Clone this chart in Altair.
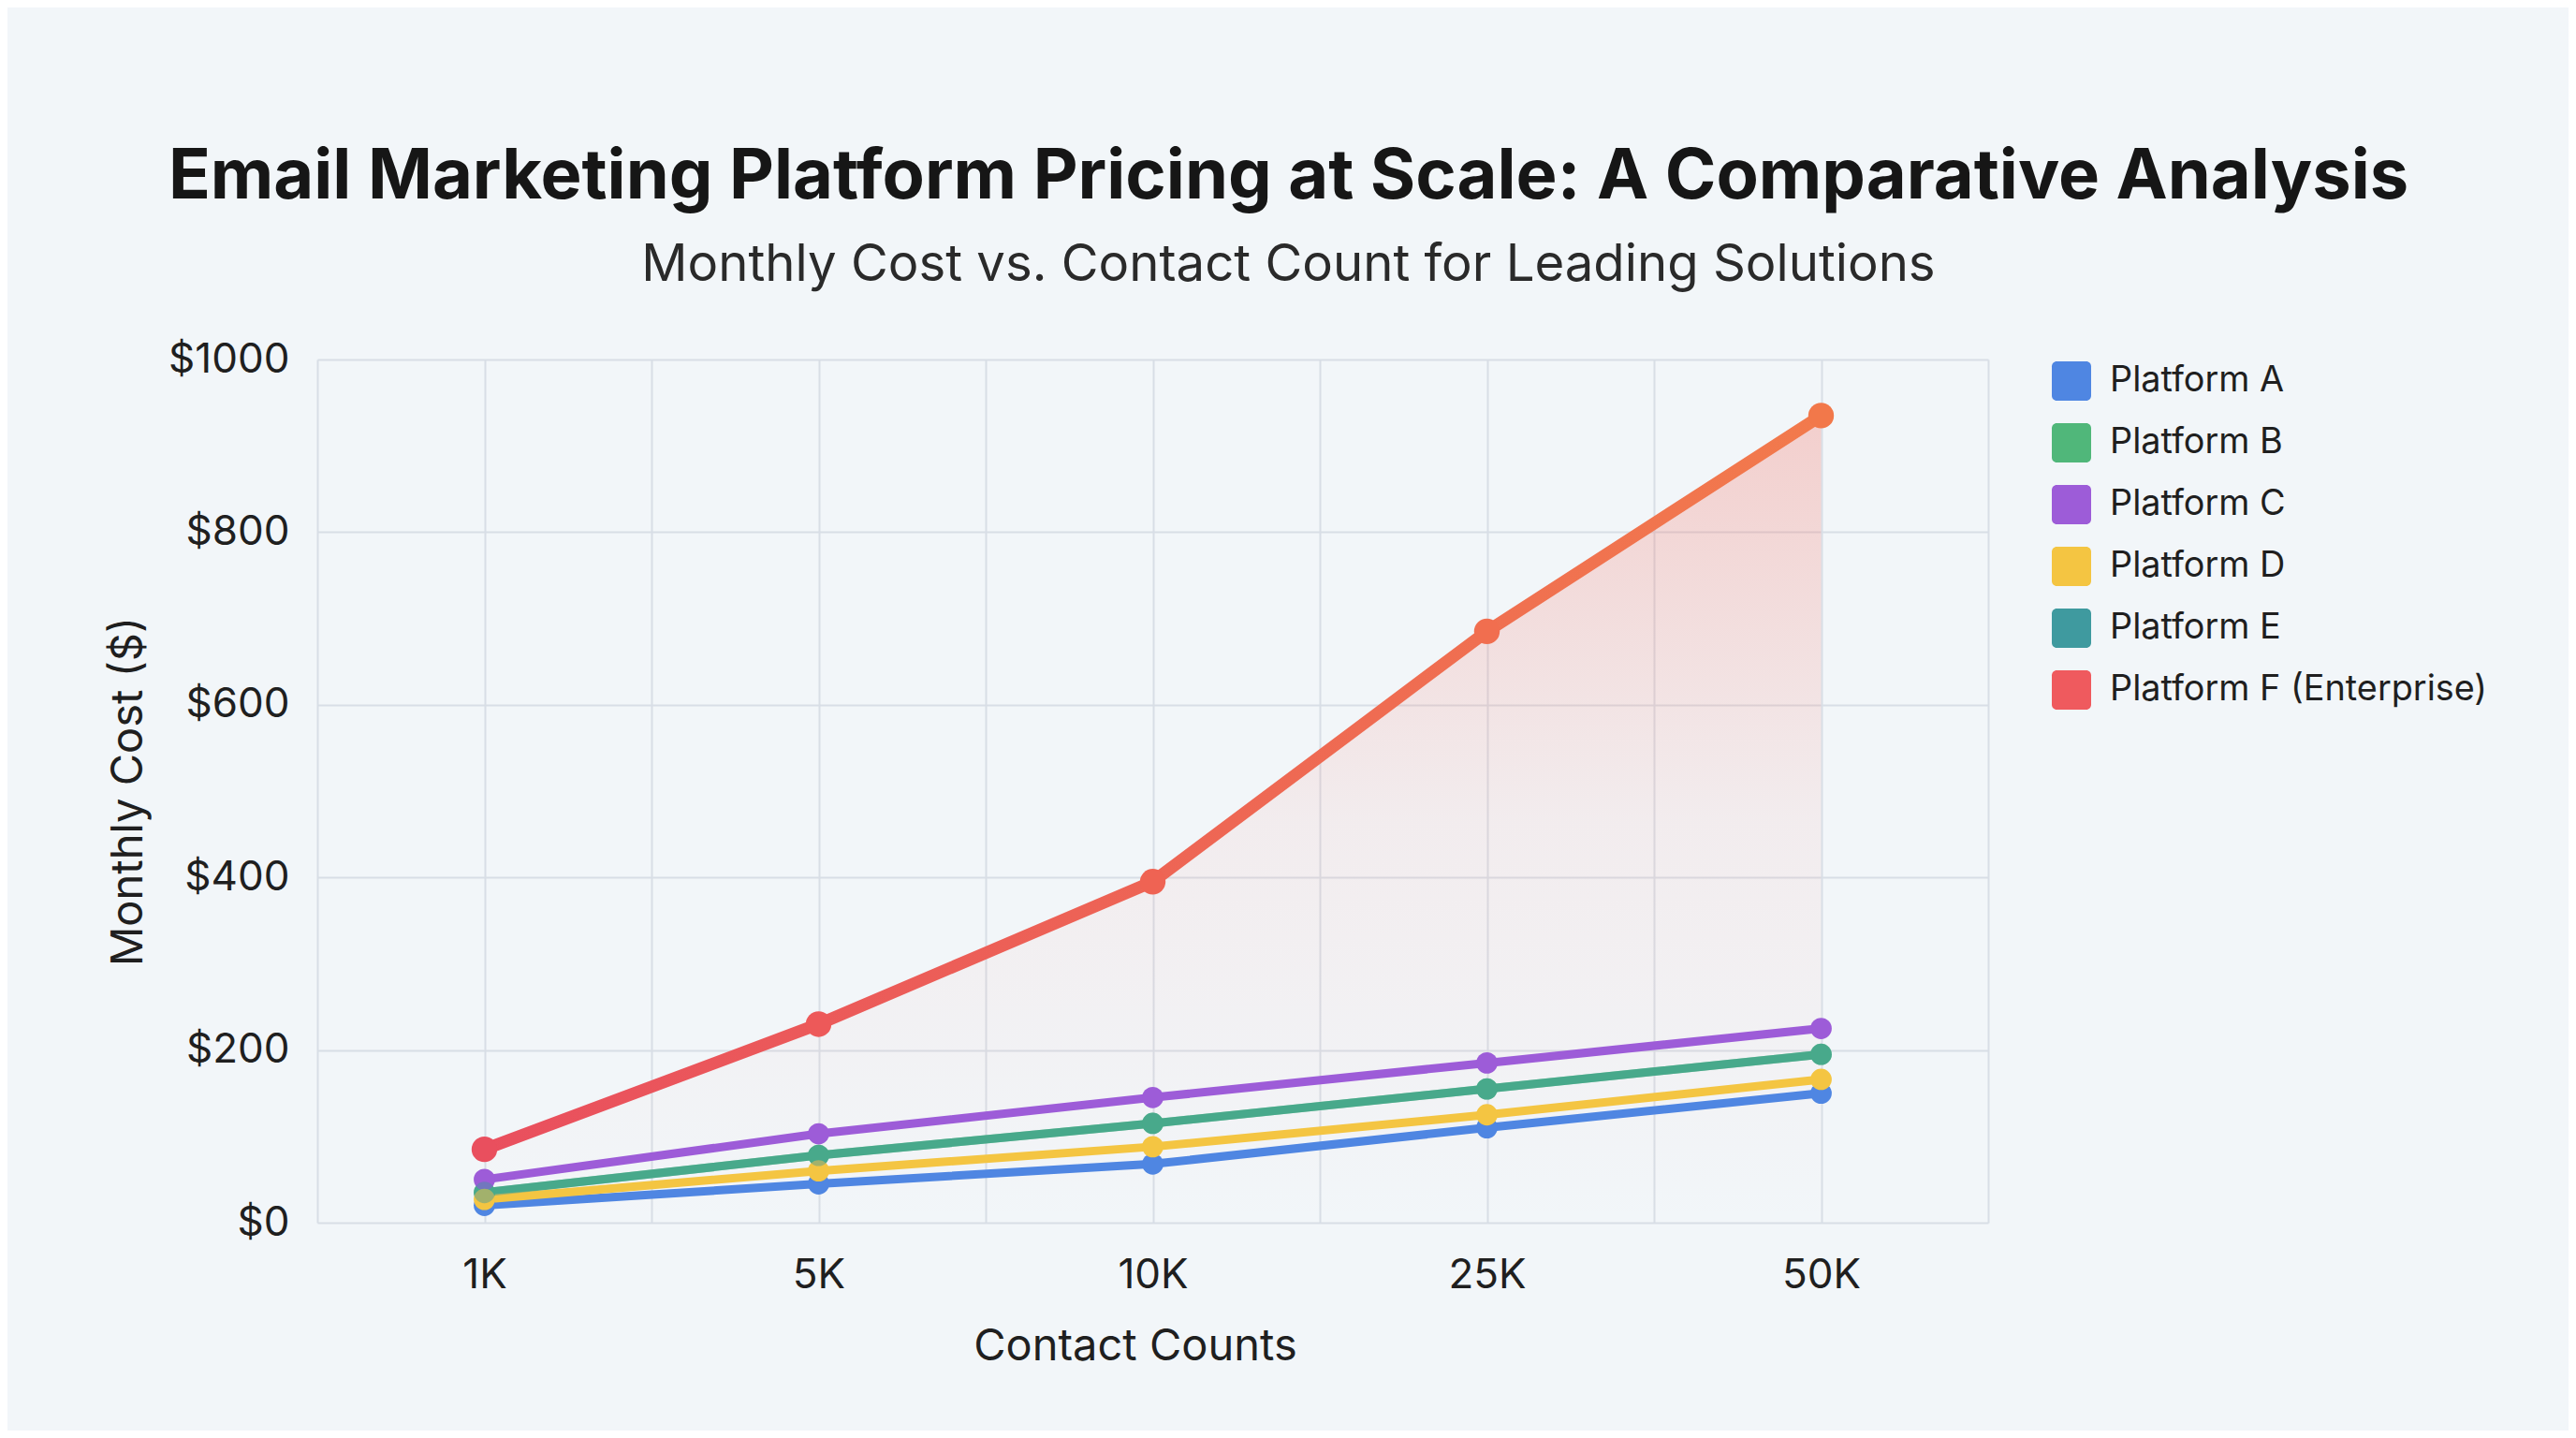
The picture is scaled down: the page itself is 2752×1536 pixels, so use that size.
import altair as alt
import pandas as pd

contacts = ["1K", "5K", "10K", "25K", "50K"]
platforms = ["Platform A", "Platform B", "Platform C", "Platform D",
             "Platform E", "Platform F (Enterprise)"]
cost_a = [20, 45, 68, 110, 150]
cost_b = [35, 78, 115, 155, 195]
cost_c = [50, 103, 145, 185, 225]
cost_d = [27, 60, 88, 125, 166]
cost_e = [35, 78, 115, 155, 195]
cost_f = [85, 230, 395, 685, 935]
colors = ["#4f86e2", "#50b77a", "#9d5cd8", "#f4c542", "#3f9a9f", "#ef5a5e"]
y_ticks = [0, 200, 400, 600, 800, 1000]

series = [cost_a, cost_b, cost_c, cost_d, cost_e, cost_f]
rows = []
for p, vals in zip(platforms, series):
    for i, (c, v) in enumerate(zip(contacts, vals)):
        rows.append({"platform": p, "idx": i, "contacts": c, "cost": v})
df = pd.DataFrame(rows)

F = platforms[-1]
n = len(contacts)
grid_vals = [k / 2 - 0.5 for k in range(2 * n + 1)]
label_arr = "[" + ",".join("'" + c + "'" for c in contacts) + "]"
label_expr = "datum.value % 1 == 0 ? " + label_arr + "[datum.value] : ''"

FONT = "Inter"
W, H = 1785, 922

x_enc = alt.X(
    "idx:Q",
    scale=alt.Scale(domain=[-0.5, n - 0.5], nice=False, zero=False),
    axis=alt.Axis(
        values=grid_vals,
        labelExpr=label_expr,
        title="Contact Counts",
        labelPadding=34,
        titlePadding=31,
        titleX=W / 2 - 19,
    ),
)
y_enc = alt.Y(
    "cost:Q",
    scale=alt.Scale(domain=[0, 1000], nice=False),
    axis=alt.Axis(
        values=y_ticks,
        labelExpr="'$' + datum.value",
        title="Monthly Cost ($)",
        labelPadding=30,
        titlePadding=18,
    ),
)

base = alt.Chart(df).encode(x=x_enc, y=y_enc)

area = base.transform_filter(alt.datum.platform == F).mark_area(
    color=alt.Gradient(
        gradient="linear",
        stops=[
            alt.GradientStop(color="rgba(245,105,90,0.28)", offset=0),
            alt.GradientStop(color="rgba(245,105,90,0.07)", offset=0.5),
            alt.GradientStop(color="rgba(245,105,90,0.0)", offset=1),
        ],
        x1=0, x2=0, y1=0, y2=1,
    )
)

# line colours: same colours as the legend, but on the non-enterprise domain
line_scale = alt.Scale(domain=platforms[:-1], range=colors[:-1])
color_scale = alt.Scale(domain=platforms, range=colors)
e_op = alt.condition(alt.datum.platform == "Platform E", alt.value(0.45), alt.value(1))

lines = base.transform_filter(alt.datum.platform != F).mark_line(
    strokeWidth=9, strokeCap="round", strokeJoin="round"
).encode(
    stroke=alt.Stroke("platform:N", scale=line_scale, legend=None),
    opacity=e_op,
)

pts = base.transform_filter(alt.datum.platform != F).mark_circle(
    size=520, opacity=1
).encode(
    color=alt.Color(
        "platform:N",
        scale=color_scale,
        legend=alt.Legend(
            title=None,
            orient="none",
            legendX=1853,
            legendY=2,
            symbolType="M-0.75,-1H0.75A0.25,0.25,0,0,1,1,-0.75V0.75A0.25,0.25,0,0,1,0.75,1H-0.75A0.25,0.25,0,0,1,-1,0.75V-0.75A0.25,0.25,0,0,1,-0.75,-1Z",
            symbolSize=1764,
            symbolStrokeWidth=0,
            symbolOpacity=1,
            rowPadding=24,
            labelOffset=20,
            labelFont=FONT,
            labelFontSize=37.8,
            labelColor="#1f1f1f",
            labelLimit=800,
        ),
    ),
    opacity=e_op,
)

f_line = base.transform_filter(alt.datum.platform == F).mark_line(
    strokeWidth=13, strokeCap="round", strokeJoin="round",
    stroke=alt.Gradient(
        gradient="linear",
        stops=[
            alt.GradientStop(color="#e94f5e", offset=0),
            alt.GradientStop(color="#f27a4c", offset=1),
        ],
        x1=0, x2=1, y1=0, y2=0,
    ),
)

f_pts = base.transform_filter(alt.datum.platform == F).mark_circle(
    size=750, opacity=1
).encode(
    fill=alt.Fill("idx:Q", scale=alt.Scale(domain=[0, n - 1], range=["#e94f5e", "#f2784a"]), legend=None)
)

chart = alt.layer(area, lines, pts, f_line, f_pts).properties(
    width=W,
    height=H,
    title=alt.TitleParams(
        text="Email Marketing Platform Pricing at Scale: A Comparative Analysis",
        subtitle="Monthly Cost vs. Contact Count for Leading Solutions",
        anchor="middle",
        frame="group",
        dx=145,
        offset=51,
        font=FONT,
        fontSize=74,
        fontWeight="bold",
        color="#161616",
        subtitleFont=FONT,
        subtitleFontSize=54.5,
        subtitleColor="#2a2a2a",
        subtitlePadding=29,
    ),
    autosize=alt.AutoSizeParams(type="none"),
    padding={"left": 331, "top": 376, "right": 620, "bottom": 222},
    background="#f2f6f9",
).configure_view(
    stroke=None
).configure_axis(
    labelFont=FONT,
    labelFontSize=44,
    labelColor="#1f1f1f",
    titleFont=FONT,
    titleFontSize=47,
    titleFontWeight="normal",
    titleColor="#1f1f1f",
    gridColor="#d8dee6",
    gridWidth=2,
    domain=False,
    ticks=False,
)

chart.save("out.html", embed_options={"renderer": "svg", "actions": False})
